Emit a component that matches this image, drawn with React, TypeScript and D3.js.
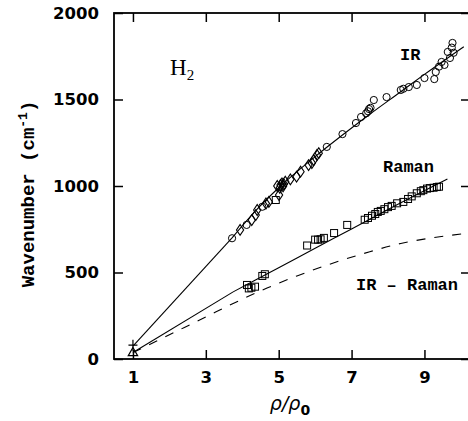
import * as d3 from 'd3';
import { useEffect, useRef } from 'react';

// tick values
const xTicks = [1, 3, 5, 7, 9];
const yTicks = [0, 500, 1000, 1500, 2000];

// IR data (rho/rho0, wavenumber)
const irCircles = [
  [3.72, 698], [4.12, 775], [4.55, 880], [6.32, 1226], [6.75, 1300], [7.12, 1364],
  [7.26, 1399], [7.4, 1420], [7.45, 1432], [7.48, 1445], [7.52, 1452], [7.61, 1497],
  [7.96, 1514], [8.35, 1555], [8.42, 1562], [8.57, 1572], [8.79, 1584], [9.0, 1624],
  [9.27, 1618], [9.31, 1659], [9.4, 1690], [9.47, 1717], [9.55, 1700], [9.64, 1775],
  [9.7, 1740], [9.75, 1800], [9.77, 1827], [9.8, 1770],
];
const irDiamonds = [
  [3.94, 746], [4.26, 803], [4.37, 832], [4.41, 861], [4.65, 899], [4.73, 908],
  [4.96, 1000], [5.01, 948], [5.03, 990], [5.05, 1006], [5.09, 1015], [5.12, 998],
  [5.14, 1010], [5.18, 1025], [5.32, 1038], [5.49, 1054], [5.6, 1083], [5.82, 1121],
  [5.91, 1133], [5.96, 1150], [6.05, 1179], [6.1, 1190],
];
const irSquares = [[4.92, 919]];
const irStart = [[1, 80]];

// Raman data
const ramanSquares = [
  [4.13, 428], [4.18, 408], [4.25, 412], [4.35, 418], [4.55, 480], [4.62, 490],
  [5.78, 656], [6.0, 690], [6.08, 690], [6.15, 692], [6.24, 700], [6.52, 728],
  [6.88, 775], [7.36, 805], [7.45, 815], [7.56, 828], [7.65, 838], [7.72, 850],
  [7.8, 856], [7.9, 866], [8.0, 878], [8.1, 885], [8.25, 900], [8.42, 908],
  [8.55, 925], [8.65, 940], [8.79, 958], [8.9, 970], [8.97, 976], [9.07, 985],
  [9.15, 988], [9.25, 990], [9.34, 994], [9.4, 996],
];
const ramanStart = [[1, 35]];

// fitted curves
const irLink = [[1, 75], [3.72, 700]];
const irFit = [
  [3.72, 700], [4.37, 858], [5, 990], [6, 1170], [6.75, 1295], [7.5, 1415],
  [8.35, 1545], [9, 1645], [10.08, 1805],
];
const ramanLink = [[1, 38], [3.75, 388]];
const ramanFit = [
  [3.75, 388], [5, 528], [6, 640], [7, 752], [8, 864], [9.63, 1040],
];
const diffCurve = [
  [1, 37], [1.4, 78], [2, 140], [3, 243], [3.72, 318], [4.68, 410], [5.5, 480],
  [6.5, 555], [7.5, 620], [8.35, 668], [9.2, 700], [10.25, 728],
];

export default function App() {
  const svgRef = useRef<SVGSVGElement>(null);

  useEffect(() => {
    const w = 468;
    const h = 421;
    const m = { left: 114, top: 13, right: 470, bottom: 359 };
    const svg = d3.select(svgRef.current);
    svg.selectAll('*').remove();
    svg.attr('width', w).attr('height', h);

    const x = d3.scaleLinear().domain([0.48, 10.25]).range([m.left, m.right]);
    const y = d3.scaleLinear().domain([0, 2000]).range([m.bottom, m.top]);

    const tickFont = (g: any) => {
      g.select('.domain').remove();
      g.selectAll('line').attr('stroke', '#000').attr('stroke-width', 1.5);
      g.selectAll('text')
        .attr('fill', '#000')
        .style('font-family', '"DejaVu Sans", sans-serif')
        .style('font-weight', 'bold')
        .style('font-size', '16.5px');
    };

    // axes
    svg.append('g')
      .attr('transform', `translate(0,${m.bottom})`)
      .call(d3.axisBottom(x).tickValues(xTicks).tickSizeInner(-9).tickSizeOuter(0).tickPadding(12).tickFormat(d3.format('d')))
      .call(tickFont);
    svg.append('g')
      .attr('transform', `translate(0,${m.top})`)
      .call(d3.axisTop(x).tickValues(xTicks).tickSizeInner(-9).tickSizeOuter(0).tickFormat(() => ''))
      .call(tickFont);
    svg.append('g')
      .attr('transform', `translate(${m.left},0)`)
      .call(d3.axisLeft(y).tickValues(yTicks).tickSizeInner(-9).tickSizeOuter(0).tickPadding(15).tickFormat(d3.format('d')))
      .call(tickFont);
    svg.append('g')
      .attr('transform', `translate(${m.right},0)`)
      .call(d3.axisRight(y).tickValues(yTicks).tickSizeInner(-9).tickSizeOuter(0).tickFormat(() => ''))
      .call(tickFont);

    svg.append('rect')
      .attr('x', m.left).attr('y', m.top)
      .attr('width', m.right - m.left).attr('height', m.bottom - m.top)
      .attr('fill', 'none').attr('stroke', '#000').attr('stroke-width', 1.8);

    // curves
    const lin = d3.line<number[]>().x(d => x(d[0])).y(d => y(d[1]));
    const smooth = d3.line<number[]>().x(d => x(d[0])).y(d => y(d[1])).curve(d3.curveMonotoneX);
    const plot = svg.append('g');
    [irLink, ramanLink].forEach(p =>
      plot.append('path').attr('d', lin(p as any)).attr('fill', 'none').attr('stroke', '#000').attr('stroke-width', 1.1));
    [irFit, ramanFit].forEach(p =>
      plot.append('path').attr('d', smooth(p as any)).attr('fill', 'none').attr('stroke', '#000').attr('stroke-width', 1.1));
    plot.append('path').attr('d', smooth(diffCurve as any))
      .attr('fill', 'none').attr('stroke', '#000').attr('stroke-width', 1.1)
      .attr('stroke-dasharray', '9,9');

    // markers
    const mk = { fill: 'none', stroke: '#000', sw: 1 };
    plot.selectAll('.irc').data(irCircles).enter().append('circle')
      .attr('cx', d => x(d[0])).attr('cy', d => y(d[1])).attr('r', 3.6)
      .attr('fill', mk.fill).attr('stroke', mk.stroke).attr('stroke-width', mk.sw);
    const diamond = d3.symbol().type(d3.symbolDiamond).size(34);
    plot.selectAll('.ird').data(irDiamonds).enter().append('path')
      .attr('d', diamond() as string)
      .attr('transform', d => `translate(${x(d[0])},${y(d[1])}) scale(1.15,1)`)
      .attr('fill', mk.fill).attr('stroke', mk.stroke).attr('stroke-width', mk.sw);
    plot.selectAll('.rs').data([...ramanSquares, ...irSquares]).enter().append('rect')
      .attr('x', d => x(d[0]) - 3.5).attr('y', d => y(d[1]) - 3.5)
      .attr('width', 7).attr('height', 7)
      .attr('fill', mk.fill).attr('stroke', mk.stroke).attr('stroke-width', mk.sw);
    plot.selectAll('.irp').data(irStart).enter().append('path')
      .attr('d', 'M-4.5,0H4.5M0,-5.5V5.5')
      .attr('transform', d => `translate(${x(d[0])},${y(d[1])})`)
      .attr('stroke', '#000').attr('stroke-width', 1.2);
    const tri = d3.symbol().type(d3.symbolTriangle).size(38);
    plot.selectAll('.rt').data(ramanStart).enter().append('path')
      .attr('d', tri() as string)
      .attr('transform', d => `translate(${x(d[0])},${y(d[1])})`)
      .attr('fill', mk.fill).attr('stroke', '#000').attr('stroke-width', 1.2);

    // labels
    const mono = '"Liberation Mono", monospace';
    const lab = (tx: number, ty: number, s: string) =>
      svg.append('text').attr('x', tx).attr('y', ty).text(s)
        .style('font-family', mono).style('font-weight', 'bold').style('font-size', '17px');
    lab(400, 60, 'IR');
    lab(383, 172, 'Raman');
    lab(356, 290, 'IR \u2013 Raman');

    const h2 = svg.append('text').attr('x', 170).attr('y', 75)
      .style('font-family', '"Liberation Serif", serif').style('font-size', '23px');
    h2.append('tspan').text('H');
    h2.append('tspan').attr('dy', 5).style('font-size', '15px').text('2');

    const yl = svg.append('text')
      .attr('transform', 'translate(34,194) rotate(-90)')
      .attr('text-anchor', 'middle')
      .style('font-family', mono).style('font-weight', 'bold').style('font-size', '19px');
    yl.append('tspan').text('Wavenumber (cm');
    yl.append('tspan').attr('dy', -7).style('font-size', '13px').text('-1');
    yl.append('tspan').attr('dy', 7).text(')');

    const xl = svg.append('text').attr('x', 290).attr('y', 410).attr('text-anchor', 'middle')
      .style('font-family', '"DejaVu Sans", sans-serif').style('font-size', '19px');
    xl.append('tspan').style('font-style', 'italic').text('\u03c1/\u03c1');
    xl.append('tspan').attr('dy', 5).style('font-size', '14px').style('font-weight', 'bold').text('0');
  });

  return (
    <svg ref={svgRef} style={{ position: 'absolute', left: 0, top: 0, background: '#fff' }}></svg>
  );
}
